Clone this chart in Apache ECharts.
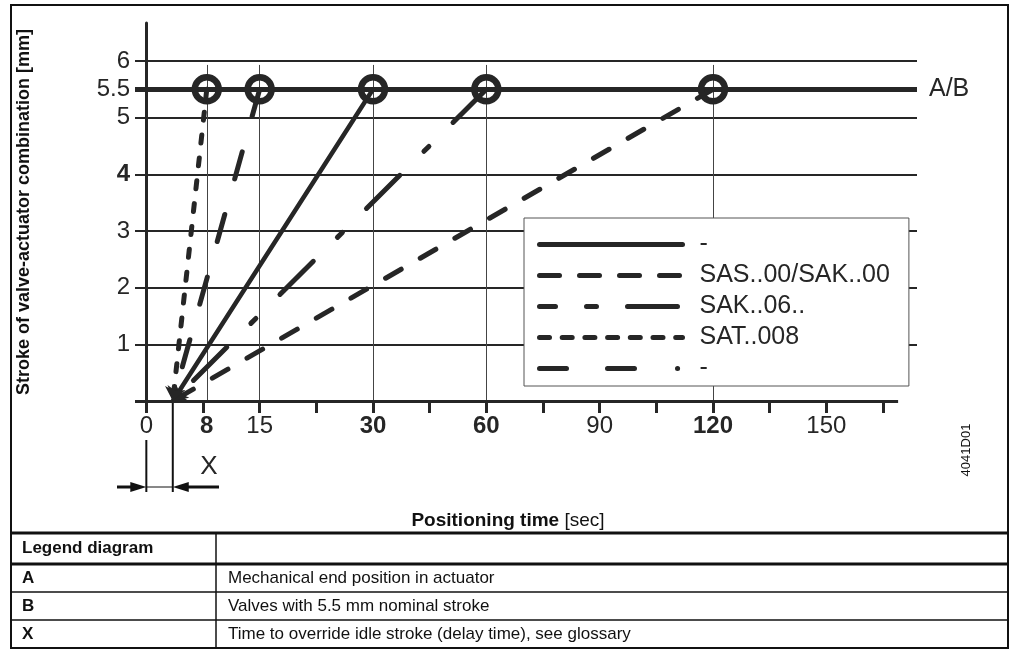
<!DOCTYPE html>
<html>
<head>
<meta charset="utf-8">
<script src="https://cdn.jsdelivr.net/npm/echarts@6/dist/echarts.min.js"></script>
<style>
  html, body { margin: 0; padding: 0; background: #fff; }
  #chart { width: 1015px; height: 652px; }
</style>
</head>
<body>
<div id="chart"></div>
<script>
// positioning times (s) at the 5.5 mm end position
const circleTimes = [8, 15, 30, 60, 120]
// one line per actuator family, same order as the legend
const lineNames = ['-', 'SAS..00/SAK..00', 'SAK..06..', 'SAT..008', '- ']
const lineTimes = [30, 120, 60, 8, 15]
const delayTime = 3.5 // X, idle stroke
const nominalStroke = 5.5
const gridLineTop = 5.93
const xAxisEndTime = 169
const xLabelTimes = [0, 8, 15, 30, 60, 90, 120, 150]
const xTickTimes = [0, 7.5, 15, 22.5, 30, 45, 60, 75, 90, 105, 120, 135, 150, 165]
const boldTimes = [8, 30, 60, 120]
const yLabelValues = [1, 2, 3, 4, 5, 5.5, 6]
const boldStrokes = [4]
const tableRows = [
  ['A', 'Mechanical end position in actuator'],
  ['B', 'Valves with 5.5 mm nominal stroke'],
  ['X', 'Time to override idle stroke (delay time), see glossary'],
]

const ink = '#262626'
const font = '"Liberation Sans", Arial, sans-serif'
const lineDash = ['solid', [18, 22], [47, 34, 7, 34], [8, 15], [28, 37]]
const legendDash = ['solid', [20, 20], [16, 31, 10, 31, 50, 200], [10, 12.7], [27, 41, 27, 43, 0.1, 200]]

// time axis: 0..30 s at full scale, above 30 s half scale
function toAxis(t) { return t <= 30 ? t : 30 + (t - 30) / 2 }
function toTime(v) { return v <= 30 ? v : 30 + (v - 30) * 2 }

const chart = echarts.init(document.getElementById('chart'))

chart.setOption({
  animation: false,
  grid: { left: 135, right: 98, top: 23, bottom: 251, outerBoundsMode: 'none' },
  legend: {
    orient: 'vertical', left: 524, top: 218, z: 10,
    padding: [14, 19, 5, 13],
    itemWidth: 143, itemHeight: 20, itemGap: 6,
    backgroundColor: '#fff', borderColor: '#555', borderWidth: 1,
    selectedMode: false,
    itemStyle: { opacity: 0 },
    lineStyle: { width: 5, cap: 'round', color: ink },
    textStyle: { fontSize: 25, color: ink, fontFamily: font, padding: [0, 0, 0, 12] },
    formatter: name => name.trim(),
    data: lineNames.map((name, i) => ({ name, lineStyle: { type: legendDash[i] } })),
  },
  xAxis: {
    type: 'value', min: -1.5, max: 102,
    axisLine: { show: false },
    axisTick: { customValues: xTickTimes.map(toAxis), length: 12, lineStyle: { color: ink, width: 3 } },
    axisLabel: {
      customValues: xLabelTimes.map(toAxis), margin: 13, fontSize: 24, color: ink, fontFamily: font,
      formatter: v => {
        const t = Math.round(toTime(v))
        return boldTimes.includes(t) ? `{b|${t}}` : `${t}`
      },
      rich: { b: { fontWeight: 'bold', fontSize: 24, color: ink, fontFamily: font } },
    },
    splitLine: { show: false },
  },
  yAxis: {
    type: 'value', min: 0, max: 6.67, interval: 1,
    axisLine: { onZero: true, lineStyle: { color: ink, width: 3 } },
    axisTick: { show: false },
    axisLabel: {
      customValues: yLabelValues, margin: 5, fontSize: 24, color: ink, fontFamily: font,
      formatter: v => boldStrokes.includes(v) ? `{b|${v}}` : `${v}`,
      rich: { b: { fontWeight: 'bold', fontSize: 24, color: ink, fontFamily: font } },
    },
    splitLine: { show: true, showMinLine: false, showMaxLine: false, lineStyle: { color: ink, width: 2 } },
    name: 'Stroke of valve-actuator combination [mm]',
    nameLocation: 'middle', nameRotate: 90, nameGap: 102,
    nameTextStyle: { fontWeight: 'bold', fontSize: 18, color: '#111', fontFamily: font },
  },
  series: [
    {
      name: 'grid', type: 'line', data: [], z: 1,
      markLine: {
        silent: true, symbol: 'none', animation: false,
        label: { show: false },
        data: [
          ...circleTimes.map(t => [
            { coord: [toAxis(t), 0], lineStyle: { color: '#444', width: 1, type: 'solid' } },
            { coord: [toAxis(t), gridLineTop] },
          ]),
          [
            { coord: [-1.5, 0], lineStyle: { color: ink, width: 3, type: 'solid' } },
            { coord: [toAxis(xAxisEndTime), 0] },
          ],
          {
            yAxis: nominalStroke,
            lineStyle: { color: ink, width: 5, type: 'solid' },
            label: { show: true, position: 'end', distance: 12, formatter: 'A/B', fontSize: 25, color: ink, fontFamily: font },
          },
        ],
      },
    },
    ...lineNames.map((name, i) => ({
      name, type: 'line', data: [], symbol: 'none', z: 3,
      lineStyle: { color: ink, width: 5, type: lineDash[i], cap: 'round' },
      markLine: {
        silent: true, animation: false,
        symbol: ['none', 'arrow'], symbolSize: 14,
        label: { show: false },
        lineStyle: { color: ink, width: i === 0 ? 4.5 : 5, type: lineDash[i], cap: 'round' },
        data: [[{ coord: [toAxis(lineTimes[i]), nominalStroke] }, { coord: [toAxis(delayTime), 0] }]],
      },
    })),
    {
      name: 'ends', type: 'scatter', z: 5, silent: true,
      data: circleTimes.map(t => [toAxis(t), nominalStroke]),
      symbol: 'circle', symbolSize: 24,
      itemStyle: { color: 'rgba(0,0,0,0)', borderColor: ink, borderWidth: 6.5, opacity: 1 },
    },
  ],
})

// frame, titles, table and the X dimension, placed from the axes
const p0 = chart.convertToPixel({ gridIndex: 0 }, [0, 0])
const pd = chart.convertToPixel({ gridIndex: 0 }, [toAxis(delayTime), 0])
const ay = 487
const line = (x1, y1, x2, y2, w) => ({ type: 'line', shape: { x1, y1, x2, y2 }, style: { stroke: '#111', lineWidth: w }, silent: true })
const text = (x, y, t, f, align, extra) => ({
  type: 'text', silent: true, ...extra,
  style: { x, y, text: t, font: f, fill: '#111', align, verticalAlign: 'middle', ...(extra && extra.style) },
})

const rowY = [533, 564, 592, 620, 648]
const graphic = [
  { type: 'rect', shape: { x: 11, y: 5, width: 997, height: 643 }, style: { stroke: '#111', lineWidth: 2, fill: 'none' }, silent: true },
  line(11, rowY[0], 1008, rowY[0], 3),
  line(11, rowY[1], 1008, rowY[1], 3),
  line(11, rowY[2], 1008, rowY[2], 1.5),
  line(11, rowY[3], 1008, rowY[3], 1.5),
  line(216, rowY[0], 216, rowY[4], 1.5),
  text(22, (rowY[0] + rowY[1]) / 2, 'Legend diagram', `bold 17px ${font}`, 'left'),
  ...tableRows.flatMap((r, i) => [
    text(22, (rowY[i + 1] + rowY[i + 2]) / 2, r[0], `bold 17px ${font}`, 'left'),
    text(228, (rowY[i + 1] + rowY[i + 2]) / 2, r[1], `17px ${font}`, 'left'),
  ]),
  text(508, 521, '{b|Positioning time} [sec]', `19px ${font}`, 'center', {
    style: { rich: { b: { fontWeight: 'bold', fontSize: 19, fontFamily: font, fill: '#111' } } },
  }),
  text(966, 450, '4041D01', `13px ${font}`, 'center', { rotation: Math.PI / 2, x: 966, y: 450, style: { x: 0, y: 0 } }),
  // X dimension
  line(p0[0], 440, p0[0], 492, 2),
  line(pd[0], p0[1], pd[0], 492, 2),
  line(p0[0], ay, pd[0], ay, 1),
  line(117, ay, p0[0] - 12, ay, 3),
  { type: 'polygon', shape: { points: [[p0[0], ay], [p0[0] - 16, ay - 5], [p0[0] - 16, ay + 5]] }, style: { fill: '#111' }, silent: true },
  line(pd[0] + 12, ay, 219, ay, 3),
  { type: 'polygon', shape: { points: [[pd[0], ay], [pd[0] + 16, ay - 5], [pd[0] + 16, ay + 5]] }, style: { fill: '#111' }, silent: true },
  text(209, 467, 'X', `26px ${font}`, 'center', { style: { fill: ink } }),
]
chart.setOption({ graphic })
</script>
</body>
</html>
